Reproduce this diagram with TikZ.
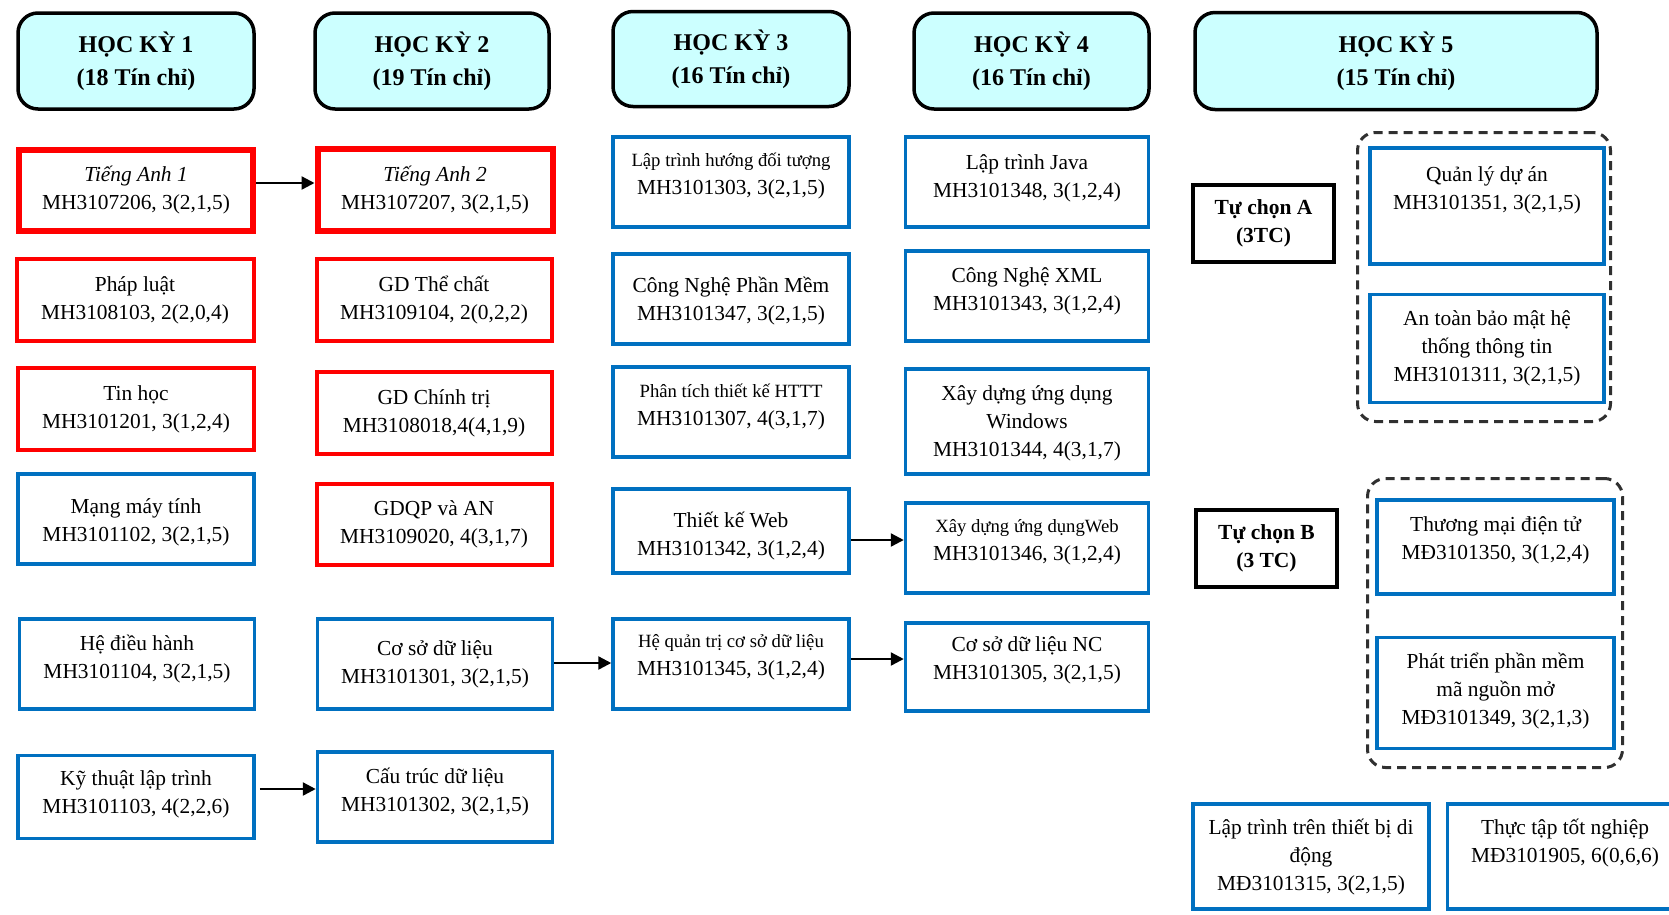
\documentclass[tikz,border=0pt]{standalone}
\usepackage{fontspec}
\setmainfont{Liberation Serif}
\usetikzlibrary{arrows.meta}

\definecolor{hdrfill}{HTML}{CCFFFF}
\definecolor{boxblue}{HTML}{0070C0}
\definecolor{boxred}{HTML}{FF0000}
\definecolor{grpline}{HTML}{303030}

% smaller type for the longer first lines
\newcommand{\tighttext}[1]{{\fontsize{18.7}{28}\selectfont #1}}

\tikzset{
  frame/.style={draw, rectangle, inner sep=0pt, fill=white},
  header/.style={frame, line width=3.5pt, rounded corners=20pt, fill=hdrfill,
    align=center, font=\bfseries\fontsize{24}{33}\selectfont},
  bluebox/.style={frame, draw=boxblue, line width=3.5pt},
  redbox/.style={frame, draw=boxred, line width=4pt},
  redthick/.style={frame, draw=boxred, line width=6pt},
  choicebox/.style={frame, draw=black, line width=4pt, align=center,
    font=\bfseries\fontsize{21.5}{28}\selectfont},
  group/.style={draw=grpline, rectangle, line width=3pt, dash pattern=on 9pt off 6pt,
    rounded corners=18pt},
  coursetext/.style={inner sep=0pt, align=center, font=\fontsize{21.4}{28}\selectfont},
  arr/.style={line width=2.4pt, -{Triangle[length=13pt,width=13pt]}},
}

% #1 name, #2 x, #3 y, #4 width, #5 height, #6 style, #7 text shift, #8 text
\newcommand{\course}[8]{%
  \node[#6, minimum width=#4pt, minimum height=#5pt] (#1) at (#2,#3) {};
  \node[coursetext, yshift=#7pt] (#1-t) at (#1.center) {#8};
}

\begin{document}
\begin{tikzpicture}[x=1pt, y=-1pt]
\useasboundingbox (0,0) rectangle (1669,914);
\fill[white] (0,0) rectangle (1669,914);

% semester headers
\node[header, minimum width=236pt, minimum height=96pt] (hk1) at (136,61) {HỌC KỲ 1\\(18 Tín chỉ)};
\node[header, minimum width=234pt, minimum height=96pt] (hk2) at (432,61) {HỌC KỲ 2\\(19 Tín chỉ)};
\node[header, minimum width=236pt, minimum height=95pt] (hk3) at (731,59) {HỌC KỲ 3\\(16 Tín chỉ)};
\node[header, minimum width=235pt, minimum height=96pt] (hk4) at (1031.5,61) {HỌC KỲ 4\\(16 Tín chỉ)};
\node[header, minimum width=402pt, minimum height=97pt] (hk5) at (1396,61) {HỌC KỲ 5\\(15 Tín chỉ)};

% semester 1
\course{ta1}{136}{190.5}{234}{81}{redthick}{0}{\textit{Tiếng Anh 1}\\MH3107206, 3(2,1,5)}
\course{pl}{135}{300}{237}{82}{redbox}{0}{Pháp luật\\MH3108103, 2(2,0,4)}
\course{th}{136}{409}{236}{82}{redbox}{0}{Tin học\\MH3101201, 3(1,2,4)}
\course{mmt}{136}{519}{236}{90}{bluebox}{-3}{Mạng máy tính\\MH3101102, 3(2,1,5)}
\course{hdh}{137}{664}{235}{90}{bluebox}{5}{Hệ điều hành\\MH3101104, 3(2,1,5)}
\course{ktlt}{136}{797}{236}{83}{bluebox}{3}{Kỹ thuật lập trình\\MH3101103, 4(2,2,6)}

% semester 2
\course{ta2}{435}{190}{235}{82}{redthick}{0}{\textit{Tiếng Anh 2}\\MH3107207, 3(2,1,5)}
\course{gdtc}{434}{300}{235}{82}{redbox}{0}{GD Thể chất\\MH3109104, 2(0,2,2)}
\course{gdct}{434}{413}{235}{82}{redbox}{0}{GD Chính trị\\MH3108018,4(4,1,9)}
\course{gdqp}{434}{524}{235}{81}{redbox}{0}{GDQP và AN\\MH3109020, 4(3,1,7)}
\course{csdl}{435}{664}{235}{90}{bluebox}{0}{Cơ sở dữ liệu\\MH3101301, 3(2,1,5)}
\course{ctdl}{435}{797}{235}{90}{bluebox}{5}{Cấu trúc dữ liệu\\MH3101302, 3(2,1,5)}

% semester 3
\course{lthdt}{731}{182}{236}{90}{bluebox}{6}{\tighttext{Lập trình hướng đối tượng}\\MH3101303, 3(2,1,5)}
\course{cnpm}{731}{299}{236}{90}{bluebox}{-2}{Công Nghệ Phần Mềm\\MH3101347, 3(2,1,5)}
\course{pttk}{731}{412}{236}{90}{bluebox}{5}{\tighttext{Phân tích thiết kế HTTT}\\MH3101307, 4(3,1,7)}
\course{tkw}{731}{531}{236}{84}{bluebox}{-5}{Thiết kế Web\\MH3101342, 3(1,2,4)}
\course{hqt}{731}{664}{236}{90}{bluebox}{7}{\tighttext{Hệ quản trị cơ sở dữ liệu}\\MH3101345, 3(1,2,4)}

% semester 4
\course{java}{1027}{182}{243}{90}{bluebox}{4}{Lập trình Java\\MH3101348, 3(1,2,4)}
\course{xml}{1027}{296}{243}{90}{bluebox}{5}{Công Nghệ XML\\MH3101343, 3(1,2,4)}
\course{win}{1027}{421.5}{243}{105}{bluebox}{-2}{Xây dựng ứng dụng\\Windows\\MH3101344, 4(3,1,7)}
\course{web}{1027}{548}{243}{90}{bluebox}{6}{\tighttext{Xây dựng ứng dụngWeb}\\MH3101346, 3(1,2,4)}
\course{csdlnc}{1027}{667}{243}{88}{bluebox}{7}{Cơ sở dữ liệu NC\\MH3101305, 3(2,1,5)}

% semester 5: elective groups
\node[group, minimum width=253pt, minimum height=289pt] (grpa) at (1484,277) {};
\node[group, minimum width=255pt, minimum height=289pt] (grpb) at (1495,623) {};
\node[choicebox, minimum width=141pt, minimum height=77pt] (tca) at (1263.5,223.5) {Tự chọn A\\(3TC)};
\node[choicebox, minimum width=141pt, minimum height=77pt] (tcb) at (1266.5,548) {Tự chọn B\\(3 TC)};
\course{qlda}{1487}{206}{234}{116}{bluebox}{16}{Quản lý dự án\\MH3101351, 3(2,1,5)}
\course{atbm}{1487}{348.6}{234}{108}{bluebox}{0}{An toàn bảo mật hệ\\thống thông tin\\MH3101311, 3(2,1,5)}
\course{tmdt}{1495.5}{547}{237}{94}{bluebox}{7}{Thương mại điện tử\\MĐ3101350, 3(1,2,4)}
\course{ptpm}{1495.5}{693}{237}{111}{bluebox}{2}{Phát triển phần mềm\\mã nguồn mở\\MĐ3101349, 3(2,1,3)}
\course{lttb}{1311}{856.5}{236}{105}{bluebox}{-1}{Lập trình trên thiết bị di\\động\\MĐ3101315, 3(2,1,5)}
\course{tttn}{1565}{856.5}{235}{105}{bluebox}{13}{Thực tập tốt nghiệp\\MĐ3101905, 6(0,6,6)}

% prerequisites
\draw[arr] ([yshift=7.5pt]ta1.east) -- ([yshift=7.5pt]ta1.east -| ta2.west);
\draw[arr, shorten <=4pt] ([yshift=8pt]ktlt.east) -- ([yshift=8pt]ktlt.east -| ctdl.west);
\draw[arr] ([yshift=1pt]csdl.east) -- ([yshift=1pt]csdl.east -| hqt.west);
\draw[arr] ([yshift=5pt]hqt.east) -- ([yshift=5pt]hqt.east -| csdlnc.west);
\draw[arr] ([yshift=-9pt]tkw.east) -- ([yshift=-9pt]tkw.east -| web.west);
\end{tikzpicture}
\end{document}
